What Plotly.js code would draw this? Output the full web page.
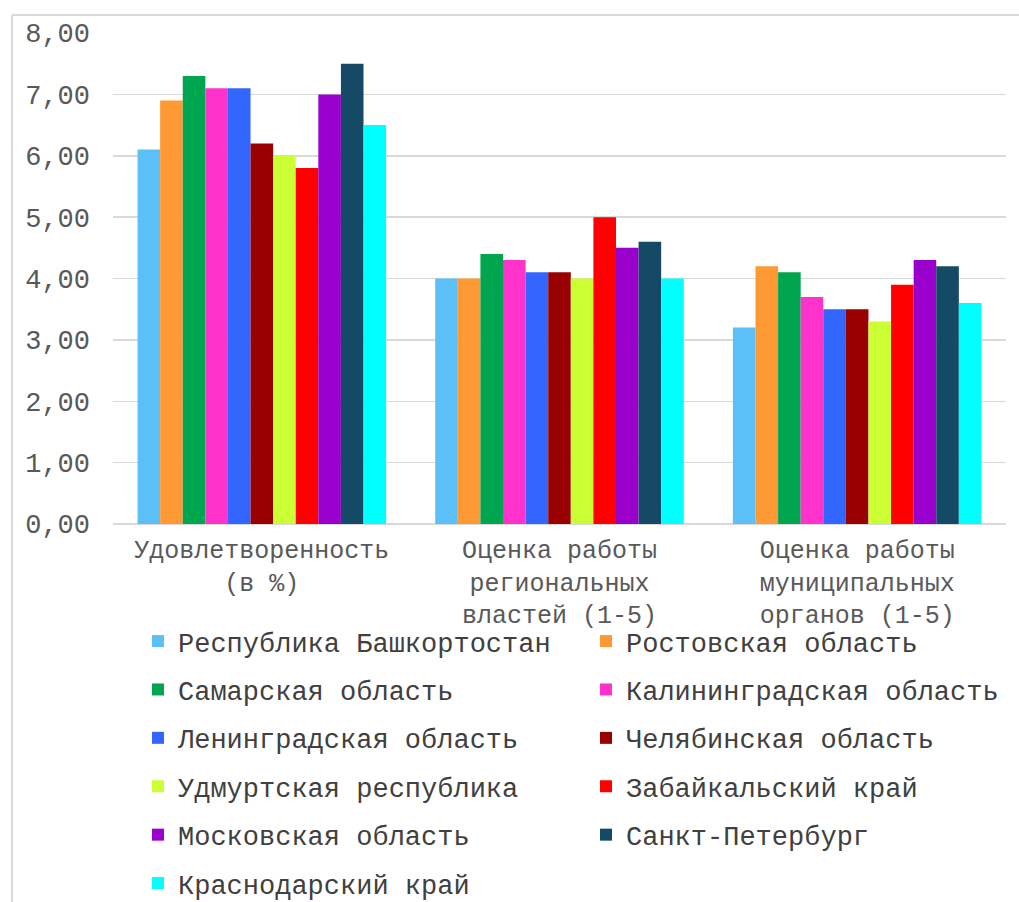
<!DOCTYPE html>
<html>
<head>
<meta charset="utf-8">
<script src="https://cdn.plot.ly/plotly-3.0.1.min.js"></script>
<style>html,body{margin:0;padding:0;background:#fff;}#chart{width:1019px;height:902px;}</style>
</head>
<body>
<div id="chart"></div>
<script>
const categories = ["Удовлетворенность<br>(в %)", "Оценка работы<br>региональных<br>властей (1-5)", "Оценка работы<br>муниципальных<br>органов (1-5)"];
const regions = ["Республика Башкортостан", "Ростовская область", "Самарская область", "Калининградская область", "Ленинградская область", "Челябинская область", "Удмуртская республика", "Забайкальский край", "Московская область", "Санкт-Петербург", "Краснодарский край"];
const bashkortostan = [6.1, 4.0, 3.2];
const rostov = [6.9, 4.0, 4.2];
const samara = [7.3, 4.4, 4.1];
const kaliningrad = [7.1, 4.3, 3.7];
const leningrad = [7.1, 4.1, 3.5];
const chelyabinsk = [6.2, 4.1, 3.5];
const udmurtia = [6.0, 4.0, 3.3];
const zabaikalsky = [5.8, 5.0, 3.9];
const moscowOblast = [7.0, 4.5, 4.3];
const stPetersburg = [7.5, 4.6, 4.2];
const krasnodar = [6.5, 4.0, 3.6];
const seriesValues = [bashkortostan, rostov, samara, kaliningrad, leningrad, chelyabinsk, udmurtia, zabaikalsky, moscowOblast, stPetersburg, krasnodar];
const colors = ["#5BC0F8", "#FF9933", "#00A550", "#FF33CC", "#3366FF", "#990000", "#CCFF33", "#FF0000", "#9900CC", "#154A66", "#00FFFF"];

const FONT = "Liberation Mono, Courier New, monospace";
const traces = regions.map((name, i) => ({
  type: "bar",
  name: name,
  x: categories,
  y: seriesValues[i],
  marker: {color: colors[i]},
  legendgroup: "g" + i,
  legend: (i % 2 === 0) ? "legend" : "legend2",
  hoverinfo: "none"
}));

const legendCommon = {
  orientation: "v",
  xanchor: "left",
  yanchor: "top",
  yref: "container",
  xref: "container",
  font: {family: FONT, size: 27, color: "#404040"},
  tracegroupgap: 10.3,
  bgcolor: "rgba(0,0,0,0)",
  itemwidth: 30
};

const layout = {
  width: 1019,
  height: 902,
  margin: {l: 113, r: 13, t: 33, b: 378, autoexpand: false},
  paper_bgcolor: "#ffffff",
  plot_bgcolor: "#ffffff",
  separators: ", ",
  barmode: "group",
  bargap: 0.165,
  bargroupgap: 0,
  font: {family: FONT, color: "#595959"},
  xaxis: {
    type: "category",
    tickfont: {family: FONT, size: 25, color: "#595959"},
    showgrid: false,
    zeroline: false,
    showline: false,
    ticks: "",
    ticklabelstandoff: 8,
    automargin: false
  },
  yaxis: {
    range: [0, 8],
    dtick: 1,
    tickformat: ".2f",
    tickfont: {family: FONT, size: 27, color: "#595959"},
    gridcolor: "#D9D9D9",
    gridwidth: 1.5,
    zeroline: true,
    zerolinecolor: "#D9D9D9",
    zerolinewidth: 1.5,
    showline: false,
    ticks: "",
    ticklabelstandoff: 22,
    automargin: false
  },
  legend: Object.assign({}, legendCommon, {x: 138 / 1019, y: 1 - 617 / 902}),
  legend2: Object.assign({}, legendCommon, {x: 586 / 1019, y: 1 - 617 / 902}),
  shapes: [
    {type: "line", xref: "paper", yref: "paper", x0: -101/893, x1: 1.02, y0: 1 + 18/491, y1: 1 + 18/491, line: {color: "#D9D9D9", width: 2}},
    {type: "line", xref: "paper", yref: "paper", x0: -101/893, x1: -101/893, y0: 1 + 18/491, y1: -1, line: {color: "#D9D9D9", width: 2}}
  ],
  showlegend: true
};

Plotly.newPlot("chart", traces, layout, {displayModeBar: false, staticPlot: true});
</script>
</body>
</html>
